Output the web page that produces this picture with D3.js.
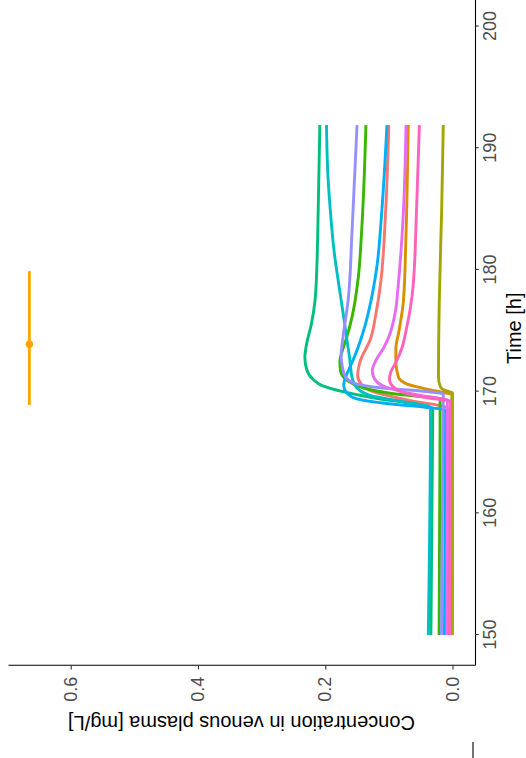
<!DOCTYPE html>
<html>
<head>
<meta charset="utf-8">
<script src="https://cdn.jsdelivr.net/npm/d3@7/dist/d3.min.js"></script>
<style>
  html, body { margin: 0; padding: 0; background: #fff; }
  svg { display: block; font-family: "Liberation Sans", Arial, sans-serif; }
</style>
</head>
<body>
<svg id="chart" width="526" height="758"></svg>
<script>
// ---- data (time in h, concentration in mg/L) ----
const seriesNames = ["S1","S2","S3","S4","S5","S6","S7","S8","S9","S10"];
const seriesColors = ["#F8766D","#D89000","#A3A500","#39B600","#00BF7D","#00BFC4","#00B0F6","#9590FF","#E76BF3","#FF62BC"];

const s1Time = [150,168.6,169.3,170.0,170.6,171.3,172.5,174.3,176.5,178.9,184.9,191.9];
const s1Conc = [0.007,0.006,0.07,0.125,0.143,0.149,0.145,0.129,0.12,0.113,0.105,0.100];

const s2Time = [150,169.7,170.2,170.6,171.2,172.5,173.5,175.0,177.5,183.0,191.9];
const s2Conc = [0.0015,0.001,0.04,0.07,0.085,0.089,0.089,0.084,0.077,0.073,0.0695];

const s3Time = [150,169.9,170.1,170.4,171.2,177.5,184.9,191.9];
const s3Conc = [0.0,0.0,0.012,0.019,0.022,0.0207,0.017,0.0145];

const s4Time = [150,169.4,169.8,170.3,170.9,171.7,172.5,173.2,174.5,176.1,179.4,183.0,191.9];
const s4Conc = [0.021,0.0195,0.09,0.14,0.165,0.176,0.177,0.174,0.166,0.158,0.148,0.143,0.136];

const s5Time = [150,168.6,169.0,169.5,170.0,170.5,171.0,171.8,172.8,174.0,175.5,177.5,180.5,183.7,191.9];
const s5Conc = [0.034,0.031,0.06,0.125,0.172,0.205,0.219,0.229,0.232,0.229,0.222,0.216,0.213,0.2115,0.2085];

const s6Time = [150,168.7,169.2,169.7,170.3,171.2,172.5,174.3,176.5,178.9,181.5,184.9,188.0,191.9];
const s6Conc = [0.038,0.0345,0.08,0.13,0.15,0.158,0.161,0.166,0.172,0.179,0.186,0.192,0.196,0.198];

const s7Time = [150,168.5,168.7,169.0,169.4,169.9,170.5,171.2,171.8,173.0,174.3,175.5,177.0,180.2,184.9,191.9];
const s7Conc = [0.0126,0.011,0.04,0.10,0.150,0.166,0.171,0.168,0.163,0.153,0.144,0.137,0.13,0.119,0.111,0.103];

const s8Time = [150,169.8,170.0,170.3,170.7,171.2,172.0,173.0,174.5,177.5,183.0,191.9];
const s8Conc = [0.0173,0.0145,0.04,0.11,0.155,0.168,0.173,0.175,0.172,0.164,0.158,0.150];

const s9Time = [150,169.3,169.6,170.0,170.5,171.1,171.7,172.6,173.6,174.8,176.5,178.9,184.9,191.9];
const s9Conc = [0.0086,0.008,0.04,0.08,0.11,0.123,0.126,0.12,0.108,0.098,0.09,0.085,0.077,0.073];

const s10Time = [150,169.2,169.5,169.9,170.4,171.0,171.6,172.4,173.5,175.0,178.6,184.9,191.9];
const s10Conc = [0.004,0.003,0.04,0.075,0.093,0.099,0.097,0.089,0.08,0.073,0.062,0.0565,0.052];

const seriesTimes = [s1Time,s2Time,s3Time,s4Time,s5Time,s6Time,s7Time,s8Time,s9Time,s10Time];
const seriesConcs = [s1Conc,s2Conc,s3Conc,s4Conc,s5Conc,s6Conc,s7Conc,s8Conc,s9Conc,s10Conc];

// observed point with horizontal (time) error bar
const obsTime = [173.9];
const obsTimeMin = [168.9];
const obsTimeMax = [179.9];
const obsConc = [0.665];

const timeTicks = [150,160,170,180,190,200];
const concTicks = [0.0,0.2,0.4,0.6];
const concTickLabels = ["0.0","0.2","0.4","0.6"];

const timeDomain = [147.48, 203.6];
const concDomain = [-0.0354, 0.6986];

// ---- layout: chart drawn in landscape frame, then rotated -90deg ----
const W = 758, H = 526;
const plot = {left: 92.3, right: 775.3, top: 8, bottom: 475};

const svg = d3.select("#chart");
const g = svg.append("g").attr("transform", `translate(0,${W}) rotate(-90)`);

const x = d3.scaleLinear().domain(timeDomain).range([plot.left, plot.right]);
const y = d3.scaleLinear().domain(concDomain).range([plot.bottom, plot.top]);

// lines
const line = d3.line().x(d => x(d[0])).y(d => y(d[1])).curve(d3.curveMonotoneX);
seriesNames.forEach((name, i) => {
  const pts = seriesTimes[i].map((t, j) => [t, seriesConcs[i][j]]);
  g.append("path")
    .datum(pts)
    .attr("d", line)
    .attr("fill", "none")
    .attr("stroke", seriesColors[i])
    .attr("stroke-width", 2.9)
    .attr("stroke-linejoin", "round")
    .attr("stroke-linecap", "butt");
});

// error bar + point
obsTime.forEach((t, i) => {
  g.append("line")
    .attr("x1", x(obsTimeMin[i])).attr("x2", x(obsTimeMax[i]))
    .attr("y1", y(obsConc[i])).attr("y2", y(obsConc[i]))
    .attr("stroke", "#FFA500").attr("stroke-width", 2.8);
  g.append("circle")
    .attr("cx", x(t)).attr("cy", y(obsConc[i])).attr("r", 3.7)
    .attr("fill", "#FFA500");
});

// axes
const xAxis = g.append("g")
  .attr("transform", `translate(0,${plot.bottom})`)
  .call(d3.axisBottom(x).tickValues(timeTicks).tickFormat(d3.format("d")).tickSize(3.7).tickPadding(4.3).tickSizeOuter(0));
const yAxis = g.append("g")
  .attr("transform", `translate(${plot.left},0)`)
  .call(d3.axisLeft(y).tickValues(concTicks).tickFormat((d, i) => concTickLabels[i]).tickSize(3.7).tickPadding(7.4).tickSizeOuter(0));

[xAxis, yAxis].forEach(a => {
  a.select(".domain").attr("stroke", "#000").attr("stroke-width", 1.1);
  a.selectAll(".tick line").attr("stroke", "#333333").attr("stroke-width", 1.1);
  a.selectAll(".tick text").attr("fill", "#4D4D4D").attr("font-size", 18)
    .attr("font-family", "'Liberation Sans', Arial, sans-serif");
});

// fragment of neighbouring axis line at the edge
g.append("line")
  .attr("x1", 0).attr("x2", 16).attr("y1", plot.bottom - 2).attr("y2", plot.bottom - 2)
  .attr("stroke", "#000").attr("stroke-width", 1.1);

// axis titles
g.append("text")
  .attr("x", (plot.left + plot.right) / 2 - 4).attr("y", 521)
  .attr("text-anchor", "middle").attr("font-size", 20).attr("fill", "#000")
  .text("Time [h]");
g.append("text")
  .attr("transform", `translate(42,${(plot.top + plot.bottom) / 2}) rotate(-90)`)
  .attr("text-anchor", "middle").attr("font-size", 20).attr("fill", "#000")
  .text("Concentration in venous plasma [mg/L]");
</script>
</body>
</html>
